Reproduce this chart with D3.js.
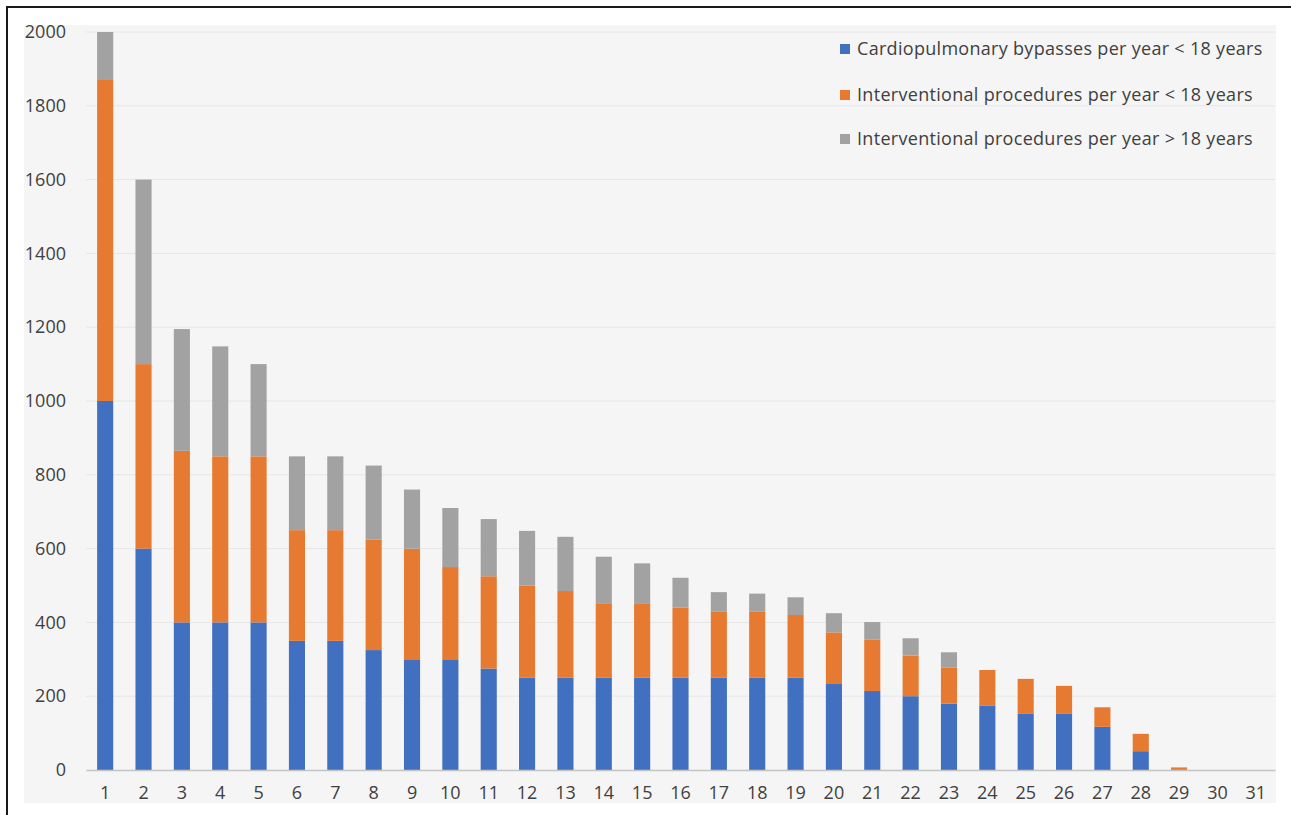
<!DOCTYPE html>
<html>
<head>
<meta charset="utf-8">
<script src="https://cdn.jsdelivr.net/npm/d3@7"></script>
<style>
  body { margin: 0; background: #fff; }
  text { font-family: "Open Sans", sans-serif; fill: #404040; }
</style>
</head>
<body>
<div id="chart"></div>
<script>
// ============= Data =============
const categories = ["1","2","3","4","5","6","7","8","9","10","11","12","13","14","15","16",
    "17","18","19","20","21","22","23","24","25","26","27","28","29","30","31"];

// segment heights, bottom to top
const bypassUnder18 = [1000,600,400,400,400,350,350,325,300,300,275,250,250,250,250,250,
    250,250,250,233,214,200,180,175,152,152,117,51,0,0,0];
const interventionalUnder18 = [870,500,465,450,450,300,300,300,300,250,250,250,235,200,200,190,
    180,180,170,140,140,110,97,96,95,76,53,47,7,0,0];
const interventionalOver18 = [130,500,330,298,250,200,200,200,160,160,155,148,147,128,110,81,
    52,48,48,52,47,47,42,0,0,0,0,0,0,0,0];

const seriesNames = [
    "Cardiopulmonary bypasses per year < 18 years",
    "Interventional procedures per year < 18 years",
    "Interventional procedures per year > 18 years"
];
const seriesColors = ["#4170c0", "#e77a31", "#a2a2a2"];
const yTicks = [0, 200, 400, 600, 800, 1000, 1200, 1400, 1600, 1800, 2000];

const rows = categories.map((c, i) => ({
    cat: c,
    s0: bypassUnder18[i],
    s1: interventionalUnder18[i],
    s2: interventionalOver18[i]
}));

const width = 1291;
const height = 815;
const plot = { left: 86, right: 1275, top: 32, bottom: 770 };

const svg = d3.select("#chart").append("svg")
    .attr("width", width)
    .attr("height", height);

// frame + plot area background
svg.append("rect")
    .attr("x", 7).attr("y", 7)
    .attr("width", 1300).attr("height", 830)
    .attr("fill", "#fff")
    .attr("stroke", "#1a1a1a")
    .attr("stroke-width", 2);

svg.append("rect")
    .attr("x", 24).attr("y", 25)
    .attr("width", 1252).attr("height", 778)
    .attr("fill", "#f5f5f5");

// ============= Scales =============
const x = d3.scaleBand()
    .domain(categories)
    .range([plot.left, plot.right])
    .paddingInner(0.58)
    .paddingOuter(0.29);

const y = d3.scaleLinear()
    .domain([0, 2000])
    .range([plot.bottom, plot.top]);

// gridlines
svg.append("g")
    .selectAll("line")
    .data(yTicks.filter(d => d > 0))
    .join("line")
    .attr("x1", plot.left)
    .attr("x2", plot.right)
    .attr("y1", d => y(d))
    .attr("y2", d => y(d))
    .attr("stroke", "#e6e6e6")
    .attr("stroke-width", 1);

// ============= Bars =============
const stack = d3.stack().keys(["s0", "s1", "s2"]);
const stacked = stack(rows);

svg.append("g")
    .selectAll("g")
    .data(stacked)
    .join("g")
    .attr("fill", (d, i) => seriesColors[i])
    .selectAll("rect")
    .data(d => d.filter(p => p[1] - p[0] > 0))
    .join("rect")
    .attr("x", p => x(p.data.cat))
    .attr("width", x.bandwidth())
    .attr("y", p => y(p[1]))
    .attr("height", p => y(p[0]) - y(p[1]));

// ============= Axes =============
const yAxis = svg.append("g")
    .attr("transform", `translate(${plot.left}, 0)`)
    .call(d3.axisLeft(y).tickValues(yTicks).tickFormat(d3.format("d")).tickSize(0).tickPadding(20));
yAxis.select(".domain").remove();
yAxis.selectAll("text")
    .style("font-size", "18px")
    .style("font-family", "'Open Sans', sans-serif")
    .attr("fill", "#404040");

const xAxis = svg.append("g")
    .attr("transform", `translate(0, ${plot.bottom})`)
    .call(d3.axisBottom(x).tickSize(0).tickPadding(16));
xAxis.select(".domain")
    .attr("stroke", "#c4c4c4")
    .attr("stroke-width", 1.5);
xAxis.selectAll("text")
    .style("font-size", "18px")
    .style("font-family", "'Open Sans', sans-serif")
    .attr("fill", "#404040");

// ============= Legend =============
const legend = svg.append("g")
    .selectAll("g")
    .data(seriesNames)
    .join("g")
    .attr("transform", (d, i) => `translate(840, ${[49, 95, 139][i]})`);

legend.append("rect")
    .attr("x", 0).attr("y", -5)
    .attr("width", 10).attr("height", 10)
    .attr("fill", (d, i) => seriesColors[i]);

legend.append("text")
    .attr("x", 17)
    .attr("dy", "0.35em")
    .style("font-size", "18px")
    .style("letter-spacing", "0.3px")
    .text(d => d);
</script>
</body>
</html>
